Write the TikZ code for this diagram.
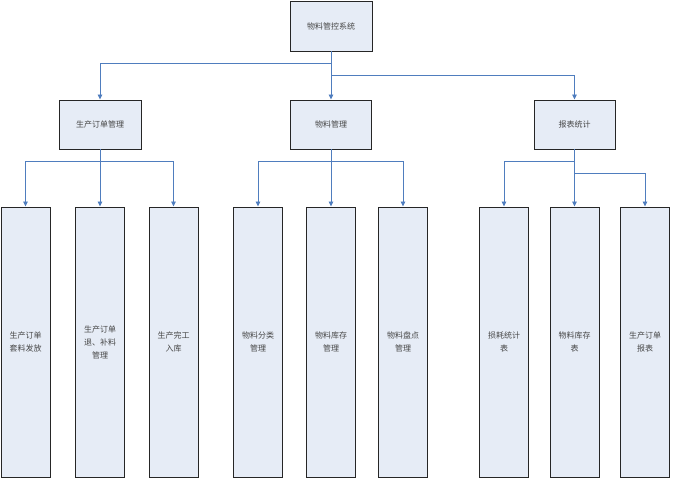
\documentclass[tikz,border=0pt]{standalone}
\usepackage{fontspec}
\newfontfamily\cjk{Noto Sans CJK SC}
\usetikzlibrary{arrows.meta}
\definecolor{linkblue}{RGB}{79,125,190}
\definecolor{boxfill}{RGB}{230,236,246}
\definecolor{txtgray}{RGB}{70,70,70}
\tikzset{
  box/.style={draw=black!85, line width=0.9pt, fill=boxfill, inner sep=1pt,
    font=\cjk\fontsize{8}{13}\selectfont, text=txtgray, align=center,
    minimum width=#1, anchor=center},
  box/.default=49pt,
  conn/.style={draw=linkblue, line width=0.9pt, -{Triangle[width=4.5pt,length=5pt]}},
  plain/.style={draw=linkblue, line width=0.9pt}
}
\begin{document}
\begin{tikzpicture}[x=1pt,y=-1pt]
\useasboundingbox (0,0) rectangle (673,481);
% nodes
\node[box=82pt, minimum height=50pt] (root) at (331,26) {物料管控系统};
\node[box=82pt, minimum height=49pt] (m1) at (100,124.5) {生产订单管理};
\node[box=81pt, minimum height=49pt] (m2) at (331,124.5) {物料管理};
\node[box=81pt, minimum height=49pt] (m3) at (574.5,124.5) {报表统计};
\foreach \n/\x/\t in {l1/25.5/{生产订单\\套料发放}, l2/100/{生产订单\\退、补料\\管理}, l3/173.5/{生产完工\\入库},
  l4/258/{物料分类\\管理}, l5/331/{物料库存\\管理}, l6/403/{物料盘点\\管理},
  l7/504/{损耗统计\\表}, l8/574.5/{物料库存\\表}, l9/645/{生产订单\\报表}}
  \node[box, minimum height=270pt] (\n) at (\x,342) {\t};
% connectors
\draw[conn] (root.south) -- ++(0,12) -| (m1.north);
\draw[conn] (root.south) -- (m2.north);
\draw[conn] (root.south) -- ++(0,24) -| (m3.north);
\draw[conn] (m1.south) -- ++(0,12) -| (l1.north);
\draw[conn] (m1.south) -- (l2.north);
\draw[conn] (m1.south) -- ++(0,12) -| (l3.north);
\draw[conn] (m2.south) -- ++(0,12) -| (l4.north);
\draw[conn] (m2.south) -- (l5.north);
\draw[conn] (m2.south) -- ++(0,12) -| (l6.north);
\draw[conn] (m3.south) -- ++(0,12) -| (l7.north);
\draw[conn] (m3.south) -- (l8.north);
\draw[conn] (m3.south) -- ++(0,24) -| (l9.north);
\end{tikzpicture}
\end{document}
